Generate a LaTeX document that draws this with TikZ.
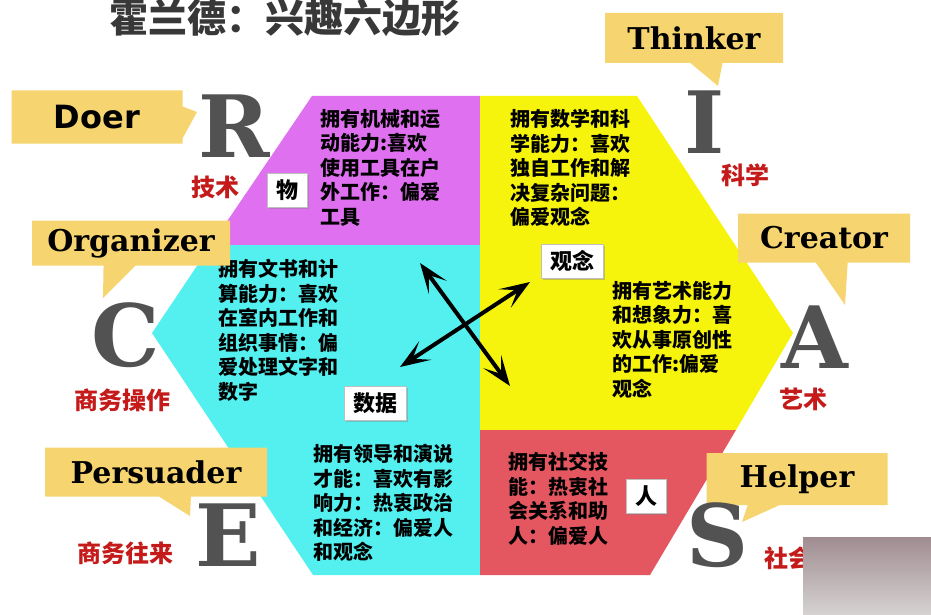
\documentclass[tikz,border=0pt]{standalone}
\usepackage{fontspec}
\newfontfamily\cjk{Noto Sans CJK SC}
\newfontfamily\capserif{DejaVu Serif}
\newfontfamily\capsans{DejaVu Sans}
\usetikzlibrary{shapes.callouts,arrows.meta,shadows}

\definecolor{wucolor}{RGB}{223,112,239}
\definecolor{shucolor}{RGB}{84,240,240}
\definecolor{guancolor}{RGB}{246,244,12}
\definecolor{rencolor}{RGB}{228,86,96}
\definecolor{bubblecolor}{RGB}{246,212,112}
\definecolor{lettercolor}{RGB}{82,82,82}
\definecolor{fieldcolor}{RGB}{196,26,26}

\tikzset{
  areatext/.style={anchor=north west,inner sep=0pt,align=left,
    font=\cjk\bfseries\fontsize{20}{24.5}\selectfont},
  tag/.style={draw=gray!50,fill=white,inner sep=0pt,minimum width=#1,minimum height=34pt,
    font=\cjk\bfseries\fontsize{22}{22}\selectfont,
    drop shadow={shadow xshift=2pt,shadow yshift=-2pt,opacity=0.4}},
  bubble/.style={rectangle callout,fill=bubblecolor,inner sep=0pt,callout pointer width=32pt,
    font=\capserif\bfseries\fontsize{30}{30}\selectfont},
  letter/.style={inner sep=0pt,text=lettercolor,font=\capserif\bfseries\fontsize{86}{86}\selectfont},
  field/.style={inner sep=0pt,text=fieldcolor,font=\cjk\bfseries\fontsize{24}{24}\selectfont},
  twoway/.style={line width=4pt,{Stealth[length=30pt,width=22pt,inset=15pt]}-{Stealth[length=30pt,width=22pt,inset=15pt]}}
}

\begin{document}
\begin{tikzpicture}[x=1pt,y=-1pt]
\useasboundingbox (0,0) rectangle (931,615);
\fill[white] (0,0) rectangle (931,615);

% hexagon
\coordinate (tl) at (312,96);
\coordinate (tr) at (637,96);
\coordinate (rv) at (793,333);
\coordinate (br) at (650,575);
\coordinate (bl) at (313,575);
\coordinate (lv) at (152,333);
\fill[wucolor] (tl) -- (480,96) -- (480,245) -- (211,245) -- cycle;
\fill[shucolor] (211,245) -- (480,245) -- (480,575) -- (bl) -- (lv) -- cycle;
\fill[guancolor] (480,96) -- (tr) -- (rv) -- (736,430) -- (480,430) -- cycle;
\fill[rencolor] (480,430) -- (736,430) -- (br) -- (480,575) -- cycle;

\node[anchor=center,inner sep=0pt,text=black!78,font=\cjk\bfseries\fontsize{39}{39}\selectfont]
  (title) at (285,18) {霍兰德：兴趣六边形};

% texts in the hexagon
\node[areatext] (wutext) at (320,109) {拥有机械和运\\动能力:喜欢\\使用工具在户\\外工作：偏爱\\工具};
\node[areatext] (guantext) at (510,109) {拥有数学和科\\学能力：喜欢\\独自工作和解\\决复杂问题：\\偏爱观念};
\node[areatext] (shutext) at (218,259) {拥有文书和计\\算能力：喜欢\\在室内工作和\\组织事情：偏\\爱处理文字和\\数字};
\node[areatext] (yitext) at (612,281) {拥有艺术能力\\和想象力：喜\\欢从事原创性\\的工作:偏爱\\观念};
\node[areatext] (lingtext) at (313,444) {拥有领导和演说\\才能：喜欢有影\\响力：热衷政治\\和经济：偏爱人\\和观念};
\node[areatext] (rentext) at (508,452) {拥有社交技\\能：热衷社\\会关系和助\\人：偏爱人};

\node[tag=40pt] (wu) at (287,190) {物};
\node[tag=62pt] (guan) at (572,261) {观念};
\node[tag=62pt] (shu) at (375,403) {数据};
\node[tag=40pt] (ren) at (646,496) {人};

\coordinate (ul) at (420,263);
\coordinate (lr) at (510,386);
\coordinate (ur) at (530,282);
\coordinate (ll) at (400,367);
\draw[twoway] (ul) -- (lr);
\draw[twoway] (ur) -- (ll);

% callouts
\node[bubble,minimum width=171pt,minimum height=53pt,callout absolute pointer={(197,112)},
  font=\capsans\bfseries\fontsize{32}{32}\selectfont] (doer) at (97,117) {Doer};
\node[bubble,minimum width=178pt,minimum height=50pt,callout absolute pointer={(718,86)}]
  (thinker) at (694,38) {Thinker};
\node[bubble,minimum width=198pt,minimum height=45pt,callout absolute pointer={(103,298)}]
  (organizer) at (131,243) {Organizer};
\node[bubble,minimum width=172pt,minimum height=49pt,callout absolute pointer={(845,305)}]
  (creator) at (824,238) {Creator};
\node[bubble,minimum width=222pt,minimum height=49pt,callout absolute pointer={(190,516)}]
  (persuader) at (156,472) {Persuader};
\node[bubble,minimum width=181pt,minimum height=52pt,callout absolute pointer={(742,522)}]
  (helper) at (797,479) {Helper};

% letters
\node[letter] (R) at (234,126) {R};
\node[letter] (I) at (705,122) {I};
\node[letter] (C) at (126,335) {C};
\node[letter] (A) at (815,337) {A};
\node[letter] (E) at (228,535) {E};
\node[letter] (S) at (718,535) {S};

\node[field] (jishu) at (215,187) {技术};
\node[field] (kexue) at (745,175) {科学};
\node[field] (caozuo) at (122,400) {商务操作};
\node[field] (yishu) at (803,399) {艺术};
\node[field] (wanglai) at (125,553) {商务往来};
\node[field] (shehui) at (788,558) {社会};

\shade[top color={rgb,255:red,160;green,140;blue,144},middle color={rgb,255:red,190;green,184;blue,185},
  bottom color={rgb,255:red,214;green,211;blue,211}] (803,537) rectangle (931,615);
\end{tikzpicture}
\end{document}
